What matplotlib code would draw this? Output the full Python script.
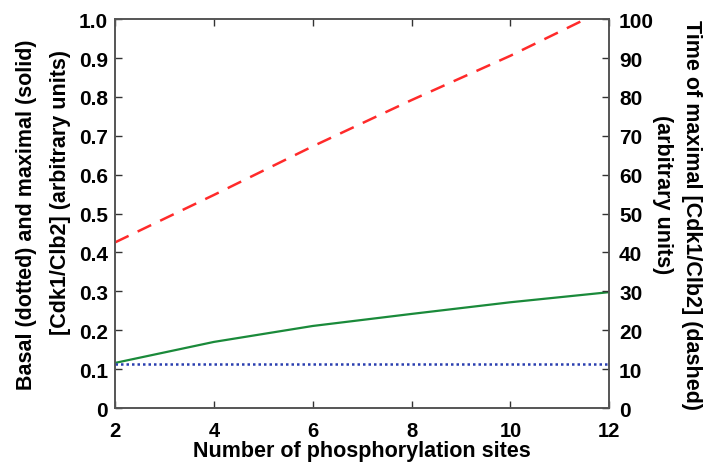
import numpy as np
import matplotlib.pyplot as plt

plt.rcParams['font.family'] = ['Liberation Sans', 'DejaVu Sans']
plt.rcParams['font.weight'] = 'bold'

# number of phosphorylation sites
sites = [2, 4, 6, 8, 10, 12]
# basal (dotted) and maximal (solid) Cdk1/Clb2, left axis
basal = [0.113, 0.113, 0.113, 0.113, 0.113, 0.113]
maximal = [0.116, 0.170, 0.211, 0.242, 0.272, 0.298]
# time of maximal Cdk1/Clb2 (dashed), right axis
t_max = [42.6, 54.8, 67.3, 79.2, 90.6, 103.0]

fig = plt.figure(figsize=(7.06, 4.64), dpi=100)
ax = fig.add_axes([0.163, 0.1185, 0.700, 0.838])
ax2 = ax.twinx()

ax.plot(sites, maximal, color='#1a8a3a', lw=1.6, zorder=3)
ax.plot(sites, basal, color='#2a3fb0', lw=1.8, ls=(0, (1, 1.2)), zorder=3)
ax2.plot(sites, t_max, color='#ff2a2a', lw=1.8, ls=(0, (6, 4)))

ax.set_xlim(2, 12)
ax.set_ylim(0, 1)
ax2.set_ylim(0, 100)
ax.set_xticks([2, 4, 6, 8, 10, 12])
ax.set_yticks(np.arange(0, 1.01, 0.1))
ax.set_yticklabels(['0'] + ['%.1f' % v for v in np.arange(0.1, 1.01, 0.1)])
ax2.set_yticks(range(0, 101, 10))

for a in (ax, ax2):
    a.tick_params(direction='in', length=5, width=1, labelsize=15, color='#333333')
    for s in a.spines.values():
        s.set_color('#555555')
        s.set_linewidth(1.2)
ax.tick_params(axis='x', top=True, pad=9, labelsize=14.5)
ax.tick_params(axis='y', pad=5)
ax2.tick_params(axis='y', pad=7)

ax.set_xlabel('Number of phosphorylation sites', fontsize=15.5, fontweight='bold', labelpad=0)

# two-line axis titles, each line placed on its own as in the original
lab = dict(fontsize=15.5, fontweight='bold', ha='center', va='center')
fig.text(0.037, 0.537, 'Basal (dotted) and maximal (solid)', rotation=90, **lab)
fig.text(0.085, 0.586, '[Cdk1/Clb2] (arbitrary units)', rotation=90, **lab)
fig.text(0.980, 0.537, 'Time of maximal [Cdk1/Clb2] (dashed)', rotation=270, **lab)
fig.text(0.939, 0.580, '(arbitrary units)', rotation=270, **lab)

fig.savefig('out.png', dpi=100)
